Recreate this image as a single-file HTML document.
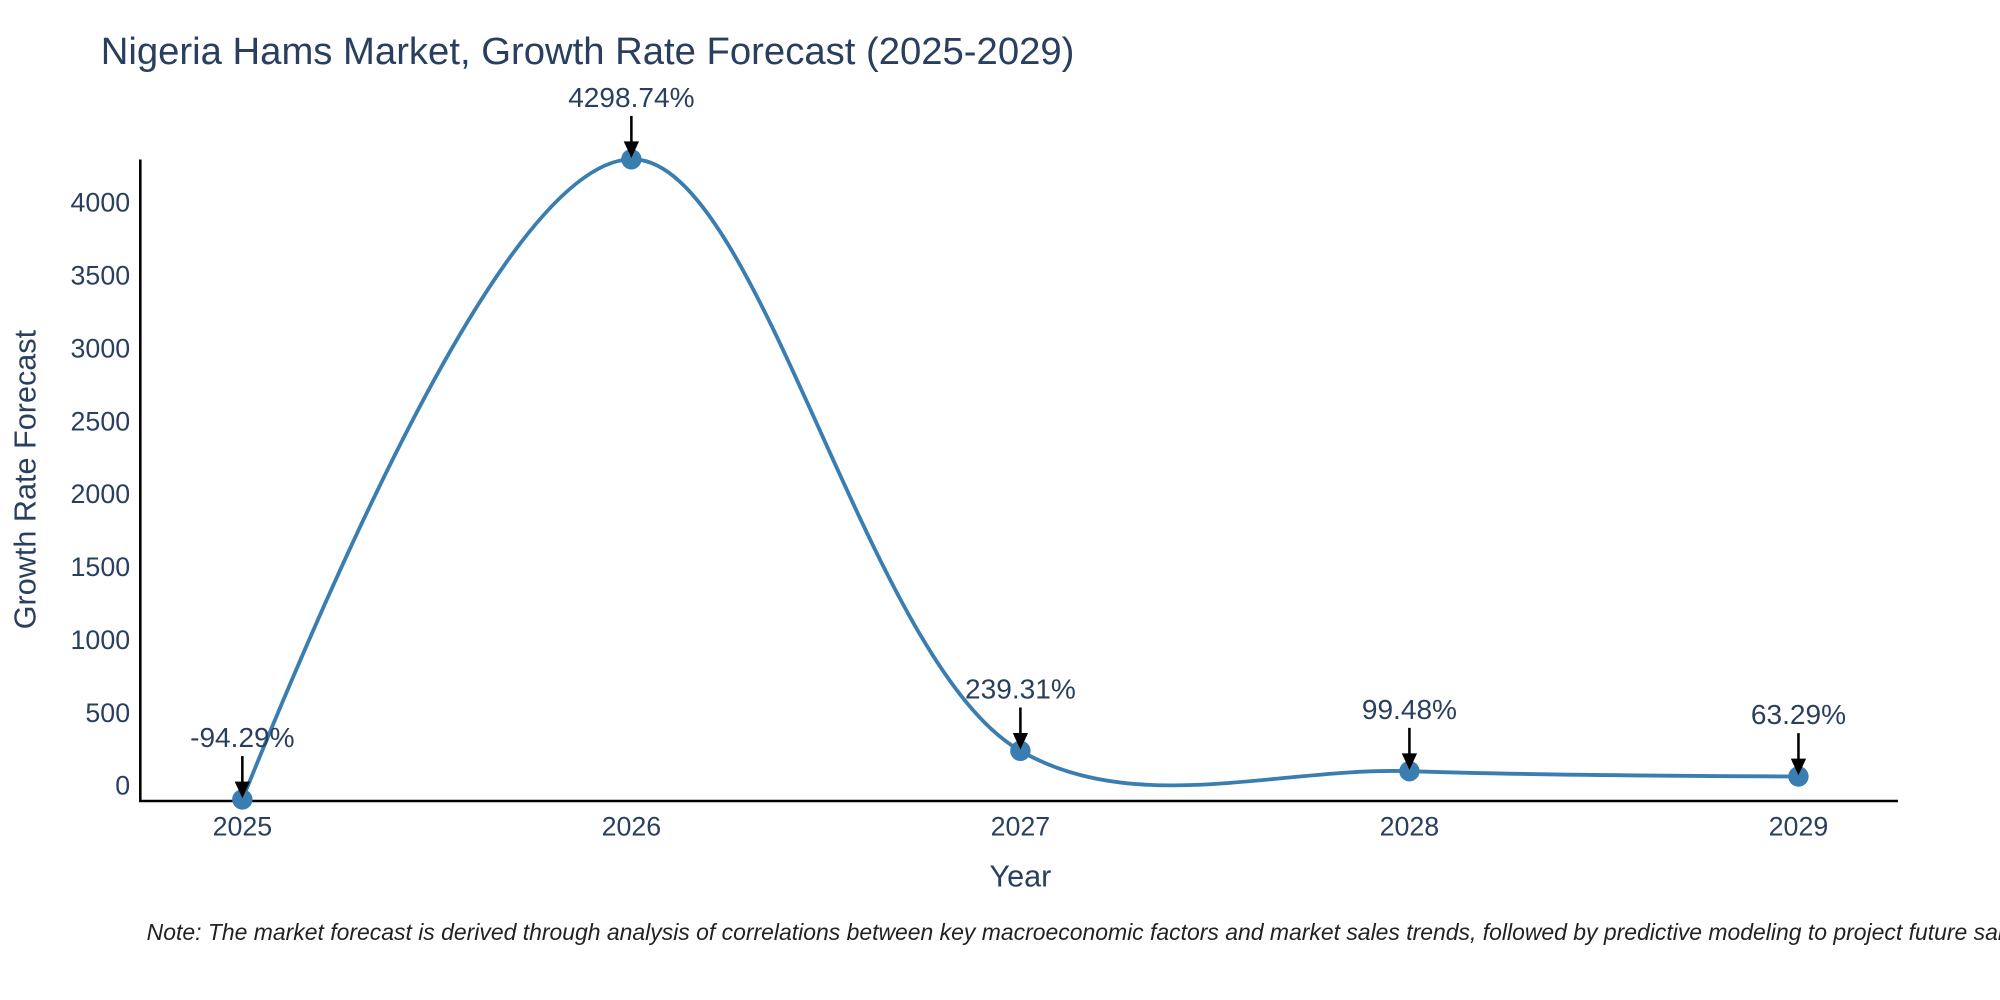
<!DOCTYPE html>
<html><head><meta charset="utf-8"><style>
body{margin:0;background:#fff;overflow:hidden;}
svg{display:block;font-family:"Liberation Sans",sans-serif;}
</style></head><body>
<svg id="chart" width="2000" height="1000">
<rect width="2000" height="1000" fill="#fff"/>
<g transform="scale(1.2755)">
<text x="79" y="50" font-size="30" fill="#2a3f5f">Nigeria Hams Market, Growth Rate Forecast (2025-2029)</text>
<g id="yticks"></g><g id="xticks"></g>
<line x1="110" y1="125" x2="110" y2="628" stroke="#000" stroke-width="2"/>
<line x1="109" y1="628" x2="1488" y2="628" stroke="#000" stroke-width="2"/>
<path id="line" fill="none" stroke="#3a7db0" stroke-width="3"/>
<g id="marks"></g>
<text x="800" y="695" font-size="24" fill="#2a3f5f" text-anchor="middle">Year</text>
<text transform="translate(28,376) rotate(-90)" font-size="24" fill="#2a3f5f" text-anchor="middle">Growth Rate Forecast</text>
<text x="115" y="737" font-size="18" font-style="italic" fill="#222">Note: The market forecast is derived through analysis of correlations between key macroeconomic factors and market sales trends, followed by predictive modeling to project future sales.</text>
</g>
</svg>
<script>
const years=[2025,2026,2027,2028,2029];
const values=[-94.29,4298.74,239.31,99.48,63.29];
const labels=["-94.29%","4298.74%","239.31%","99.48%","63.29%"];
const yTicks=[0,500,1000,1500,2000,2500,3000,3500,4000];
const NS="http://www.w3.org/2000/svg";
const X=v=>190+(v-2025)*305;
const Y=v=>616-v*(457/4000);
function el(t,a,p){const e=document.createElementNS(NS,t);for(const k in a)e.setAttribute(k,a[k]);p.appendChild(e);return e;}
const yt=document.getElementById('yticks');
yTicks.forEach(t=>{const e=el('text',{x:102,y:Y(t)+7,'font-size':21,fill:'#2a3f5f','text-anchor':'end'},yt);e.textContent=t;

});
const xt=document.getElementById('xticks');
years.forEach(t=>{const e=el('text',{x:X(t),y:655,'font-size':21,fill:'#2a3f5f','text-anchor':'middle'},xt);e.textContent=t;

});
const pts=years.map((y,i)=>[X(y),Y(values[i])]);
function tan(p,t,n,s){const d1x=p[0]-t[0],d1y=p[1]-t[1],d2x=n[0]-t[0],d2y=n[1]-t[1];
const d1a=Math.pow(d1x*d1x+d1y*d1y,0.25),d2a=Math.pow(d2x*d2x+d2y*d2y,0.25);
const nx=(d2a*d2a*d1x-d1a*d1a*d2x)*s,ny=(d2a*d2a*d1y-d1a*d1a*d2y)*s;
const a=3*d2a*(d1a+d2a),b=3*d1a*(d1a+d2a);
return [[t[0]+nx/a,t[1]+ny/a],[t[0]-nx/b,t[1]-ny/b]];}
const T=[];for(let i=1;i<pts.length-1;i++)T.push(tan(pts[i-1],pts[i],pts[i+1],1.0));
let d='M'+pts[0]+'Q'+T[0][0]+' '+pts[1];
for(let i=2;i<pts.length-1;i++)d+='C'+T[i-2][1]+' '+T[i-1][0]+' '+pts[i];
d+='Q'+T[T.length-1][1]+' '+pts[pts.length-1];
document.getElementById('line').setAttribute('d',d);
const mk=document.getElementById('marks');
pts.forEach((p,i)=>{
const c=el('circle',{cx:p[0],cy:p[1],r:8,fill:'#3a7db0'},mk);


const top=p[1]-34;
const l=el('line',{x1:p[0],y1:top,x2:p[0],y2:p[1]-12,stroke:'#000','stroke-width':2},mk);


const h=el('polygon',{points:`${p[0]-6},${p[1]-14} ${p[0]+6},${p[1]-14} ${p[0]},${p[1]-1}`,fill:'#000'},mk);


const tx=el('text',{x:p[0],y:top-7,'font-size':22,fill:'#2a3f5f','text-anchor':'middle'},mk);
tx.textContent=labels[i];


});
</script>
</body></html>
